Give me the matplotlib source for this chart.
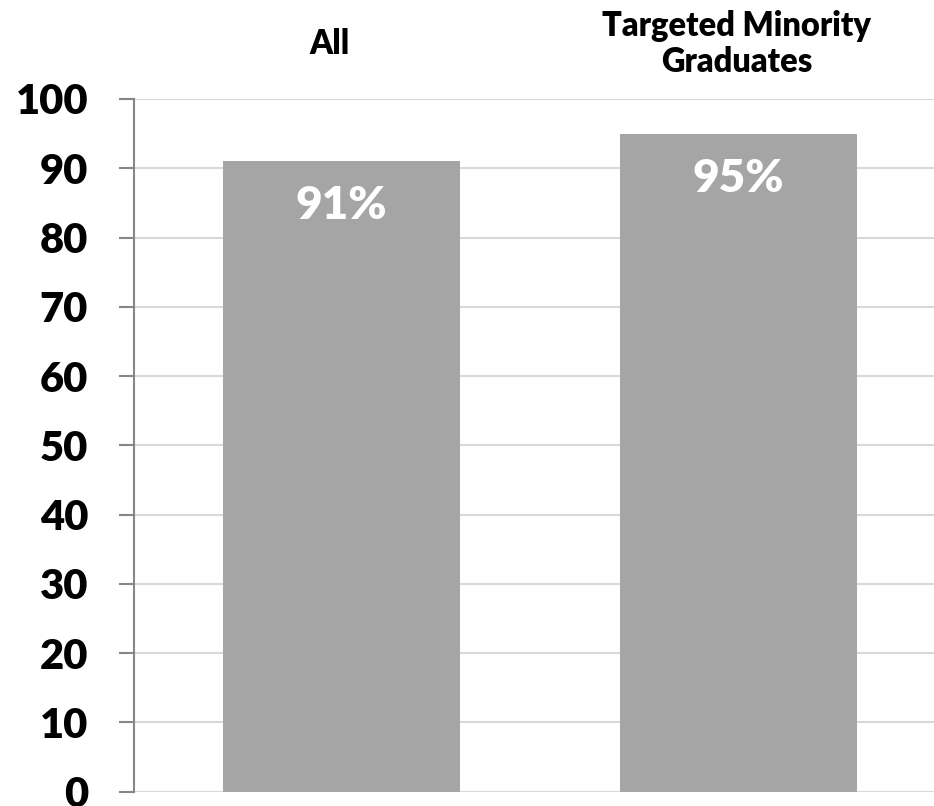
import matplotlib
matplotlib.use("Agg")
import matplotlib.pyplot as plt
import matplotlib.transforms as mtransforms

categories = ["All", "Targeted Minority\nGraduates"]
values = [91, 95]
value_labels = ["91%", "95%"]
yticks = [0, 10, 20, 30, 40, 50, 60, 70, 80, 90, 100]

plt.rcParams["font.family"] = ["Lato", "DejaVu Sans"]
WEIGHT = 800

W, H = 934, 806
fig = plt.figure(figsize=(W / 100, H / 100), dpi=100)
left_px, right_px, top_px, bottom_px = 134, 946, 99, 791.7
ax = fig.add_axes([left_px / W, (H - bottom_px) / H,
                   (right_px - left_px) / W, (bottom_px - top_px) / H])

x = list(range(len(categories)))
bars = ax.bar(x, values, width=0.597, color="#a5a5a5", zorder=2)

ax.set_xlim(-0.523, 1.523)
ax.set_ylim(0, 100)
ax.set_yticks(yticks)
ax.set_yticklabels([str(t) for t in yticks], fontsize=30, fontweight=WEIGHT)
ax.set_xticks([])
ax.grid(axis="y", color="#d9d9d9", linewidth=1.5, zorder=0)
ax.set_axisbelow(True)
for side in ("top", "right", "bottom"):
    ax.spines[side].set_visible(False)
ax.spines["left"].set_color("#868686")
ax.spines["left"].set_linewidth(1.5)
ax.tick_params(axis="y", direction="out", length=11, width=1.5,
               color="#868686", pad=22, labelcolor="black")

# value labels inside the top of each bar
for xi, v, lab in zip(x, values, value_labels):
    ax.annotate(lab, xy=(xi, v), xytext=(0, -32), textcoords="offset points",
                ha="center", va="center", color="white",
                fontsize=33, fontweight=WEIGHT)

# category names above the plot area
trans = mtransforms.blended_transform_factory(ax.transData, ax.transAxes)
offsets = [-0.031, -0.005]
for xi, cat, off in zip(x, categories, offsets):
    ax.text(xi + off, 1.08, cat, transform=trans, ha="center", va="center",
            fontsize=23.5, fontweight=WEIGHT, linespacing=1.15, color="black")

fig.savefig("out.png", dpi=100)
